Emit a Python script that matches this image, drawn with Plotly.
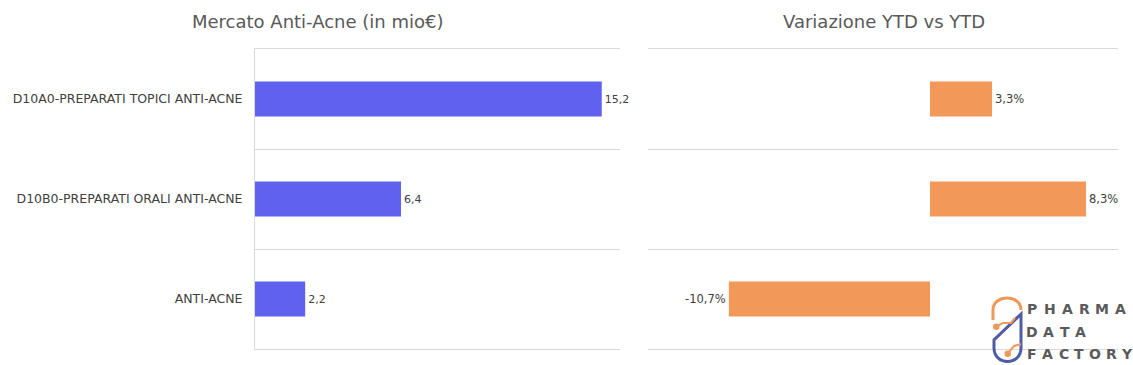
import plotly.graph_objects as go

categories = ["D10A0-PREPARATI TOPICI ANTI-ACNE", "D10B0-PREPARATI ORALI ANTI-ACNE", "ANTI-ACNE"]
market_values = [15.2, 6.4, 2.2]
ytd_variation = [3.3, 8.3, -10.7]
title_left = "Mercato Anti-Acne (in mio€)"
title_right = "Variazione YTD vs YTD"

W, H = 1133, 365
FONT = "DejaVu Sans"
GRID = "#d9d9d9"

def px(x):
    return x / W

def py(y):
    return 1 - y / H

fig = go.Figure()
fig.add_trace(go.Bar(
    x=market_values, y=categories, orientation="h",
    marker=dict(color="#6161F0", line=dict(width=0)),
    texttemplate="%{x:.1f}", textposition="outside", cliponaxis=False,
    textfont=dict(family=FONT, size=11, color="#404040"),
    xaxis="x", yaxis="y", hoverinfo="skip", showlegend=False,
))
fig.add_trace(go.Bar(
    x=ytd_variation, y=categories, orientation="h",
    marker=dict(color="#F2995A", line=dict(width=0)),
    texttemplate="%{x:.1f}%", textposition="outside", cliponaxis=False,
    textfont=dict(family=FONT, size=11.5, color="#404040"),
    xaxis="x2", yaxis="y2", hoverinfo="skip", showlegend=False,
))

common_y = dict(type="category", categoryorder="array", categoryarray=categories,
                autorange="reversed", tickson="boundaries", showgrid=True,
                gridcolor=GRID, gridwidth=1, ticks="", zeroline=False,
                domain=[py(349), py(49)])
common_x = dict(showgrid=False, zeroline=False, showticklabels=False,
                showline=True, mirror=True, linecolor=GRID, linewidth=1, ticks="")

fig.update_layout(
    width=W, height=H,
    margin=dict(l=0, r=0, t=0, b=0),
    paper_bgcolor="white", plot_bgcolor="white",
    separators=",.",
    bargap=0.65,
    font=dict(family=FONT, color="#595959"),
    xaxis=dict(**common_x, domain=[px(255), px(620)], range=[0, 16], anchor="y"),
    xaxis2=dict(**common_x, domain=[px(648), px(1118)], range=[-15, 10], anchor="y2"),
    yaxis=dict(**common_y, anchor="x", showline=True, linecolor=GRID, linewidth=1,
               ticklabelstandoff=9,
               tickfont=dict(family=FONT, size=12.5, color="#404040")),
    yaxis2=dict(**common_y, anchor="x2", showline=False, showticklabels=False),
)

fig.add_annotation(text=title_left, x=px(317), y=py(22), xref="paper", yref="paper",
                   showarrow=False, xanchor="center", yanchor="middle",
                   font=dict(family=FONT, size=18, color="#595959"))
fig.add_annotation(text=title_right, x=px(884), y=py(22), xref="paper", yref="paper",
                   showarrow=False, xanchor="center", yanchor="middle",
                   font=dict(family=FONT, size=18, color="#595959"))

# Logo: icon drawn as paths in pixel coordinates
def path(points_cmds):
    out = []
    for cmd in points_cmds:
        if isinstance(cmd, str):
            out.append(cmd)
        else:
            out.append(f"{px(cmd[0]):.5f},{py(cmd[1]):.5f}")
    return " ".join(out)

orange = "#EE9A5C"
blue = "#4E5BA6"
# orange capsule top arc
fig.add_shape(type="path", xref="paper", yref="paper",
              path=path(["M", (993, 320), "L", (993, 310), "C", (993, 294), (1021, 294), (1021, 310)]),
              line=dict(color=orange, width=3))
# blue drop
fig.add_shape(type="path", xref="paper", yref="paper",
              path=path(["M", (1021, 314), "L", (994, 340), "L", (994, 348),
                         "C", (994, 366), (1021, 366), (1021, 348), "Z"]),
              line=dict(color=blue, width=3))
# orange circuit lines and dots
fig.add_shape(type="path", xref="paper", yref="paper",
              path=path(["M", (997, 326), "L", (1003, 323), "L", (1011, 323), "L", (1015, 318)]),
              line=dict(color=orange, width=2))
fig.add_shape(type="circle", xref="paper", yref="paper",
              x0=px(993), x1=px(999.5), y0=py(330), y1=py(323.5),
              fillcolor=orange, line=dict(width=0))
fig.add_shape(type="path", xref="paper", yref="paper",
              path=path(["M", (1009, 352), "L", (1014, 346), "L", (1021, 344)]),
              line=dict(color=orange, width=2))
fig.add_shape(type="circle", xref="paper", yref="paper",
              x0=px(1004.5), x1=px(1011), y0=py(357), y1=py(350.5),
              fillcolor=orange, line=dict(width=0))

logo_lines = [("PHARMA", 309, 17.6), ("DATA", 332, 16.3), ("FACTORY", 354, 15.8)]
for word, yc, pitch in logo_lines:
    for i, ch in enumerate(word):
        fig.add_annotation(text=ch, x=px(1032 + i * pitch), y=py(yc), xref="paper", yref="paper",
                           showarrow=False, xanchor="center", yanchor="middle",
                           font=dict(family=FONT, size=14, color="#5a5a5a", weight="bold"))

fig.write_html("out.html", config={"displayModeBar": False},
               post_script="document.body.style.margin='0px';document.body.style.overflow='hidden';")
